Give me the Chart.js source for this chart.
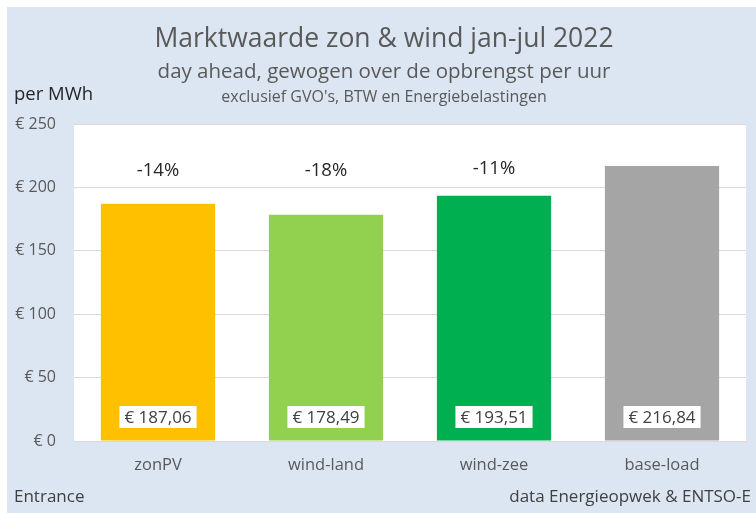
<!DOCTYPE html>
<html>
<head>
<meta charset="utf-8">
<script src="https://cdn.jsdelivr.net/npm/chart.js@4"></script>
<style>
  html, body { margin: 0; padding: 0; background: #fff; }
  #wrap { width: 756px; height: 513px; }
</style>
</head>
<body>
<div id="wrap"><canvas id="chart" width="756" height="513"></canvas></div>
<script>
// ── Data ───────────────────────────────────────────────────────────────────────
const categories = ['zonPV', 'wind-land', 'wind-zee', 'base-load'];
const values     = [187.06, 178.49, 193.51, 216.84];
const pctLabels  = ['-14%', '-18%', '-11%', ''];
const pctLevel   = [213, 213, 215, 0];     // height (in €) where the % label sits
const barColors  = ['#ffc000', '#92d050', '#00b050', '#a5a5a5'];
const yTicks     = [0, 50, 100, 150, 200, 250];

const FONT = '"Open Sans", Lato, sans-serif';
const GREY = '#595959';

function euro(v, dec) {
  return '€ ' + v.toFixed(dec).replace('.', ',');
}

// ── Background panel, white plot area and the free texts ──────────────────────
const decor = {
  id: 'decor',
  beforeDraw(chart) {
    const { ctx, chartArea: a } = chart;
    ctx.save();
    ctx.fillStyle = '#fff';
    ctx.fillRect(0, 0, chart.width, chart.height);
    ctx.fillStyle = '#dce6f2';
    ctx.fillRect(7, 7, chart.width - 7, chart.height - 7);
    ctx.fillStyle = '#fff';
    ctx.fillRect(a.left, a.top, a.right - a.left, a.bottom - a.top);

    ctx.fillStyle = GREY;
    ctx.textAlign = 'center';
    ctx.textBaseline = 'middle';
    ctx.font = `26.5px ${FONT}`;
    ctx.fillText('Marktwaarde zon & wind jan-jul 2022', 384, 39);
    ctx.font = `20.5px ${FONT}`;
    ctx.fillText('day ahead, gewogen over de opbrengst per uur', 384, 72);
    ctx.font = `16px ${FONT}`;
    ctx.fillText("exclusief GVO's, BTW en Energiebelastingen", 384, 97);

    ctx.fillStyle = '#262626';
    ctx.textAlign = 'left';
    ctx.font = `18.5px ${FONT}`;
    ctx.fillText('per MWh', 14, 95);

    ctx.fillStyle = '#404040';
    ctx.font = `17px ${FONT}`;
    ctx.fillText('Entrance', 14, 497);
    ctx.textAlign = 'right';
    ctx.fillText('data Energieopwek & ENTSO-E', 751, 497);
    ctx.restore();
  },
  afterDatasetsDraw(chart) {
    const { ctx } = chart;
    const meta = chart.getDatasetMeta(0);
    const y = chart.scales.y;
    ctx.save();
    ctx.textAlign = 'center';
    ctx.textBaseline = 'middle';
    meta.data.forEach((bar, i) => {
      // value box near the bottom of the bar
      const txt = euro(values[i], 2);
      ctx.font = `17px ${FONT}`;
      const w = ctx.measureText(txt).width + 10;
      const cy = y.getPixelForValue(0) - 24;
      ctx.fillStyle = '#fff';
      ctx.fillRect(bar.x - w / 2, cy - 11, w, 22);
      ctx.fillStyle = '#404040';
      ctx.fillText(txt, bar.x, cy + 1);

      if (pctLabels[i]) {
        ctx.fillStyle = '#262626';
        ctx.font = `18.5px ${FONT}`;
        ctx.fillText(pctLabels[i], bar.x, y.getPixelForValue(pctLevel[i]));
      }
    });
    ctx.restore();
  }
};

new Chart(document.getElementById('chart'), {
  type: 'bar',
  data: {
    labels: categories,
    datasets: [{
      data: values,
      backgroundColor: barColors,
      borderWidth: 0,
      categoryPercentage: 1,
      barPercentage: 0.68,
    }]
  },
  options: {
    responsive: false,
    animation: false,
    devicePixelRatio: 1,
    layout: { padding: { left: 0, right: 10, top: 124, bottom: 0 } },
    plugins: {
      legend: { display: false },
      tooltip: { enabled: false },
    },
    scales: {
      x: {
        grid: { display: false, drawTicks: false },
        border: { color: '#d9d9d9', width: 1 },
        ticks: { color: GREY, font: { family: FONT, size: 16.5 }, padding: 14 },
        afterFit(scale) { scale.height = 72; },
      },
      y: {
        min: 0,
        max: 250,
        afterBuildTicks(scale) { scale.ticks = yTicks.map(v => ({ value: v })); },
        grid: { color: '#d9d9d9', drawTicks: false },
        border: { display: false },
        ticks: {
          color: GREY,
          font: { family: FONT, size: 16 },
          padding: 18,
          callback: (v) => euro(v, 0),
        },
        afterFit(scale) { scale.width = 74; },
      }
    }
  },
  plugins: [decor]
});
</script>
</body>
</html>
